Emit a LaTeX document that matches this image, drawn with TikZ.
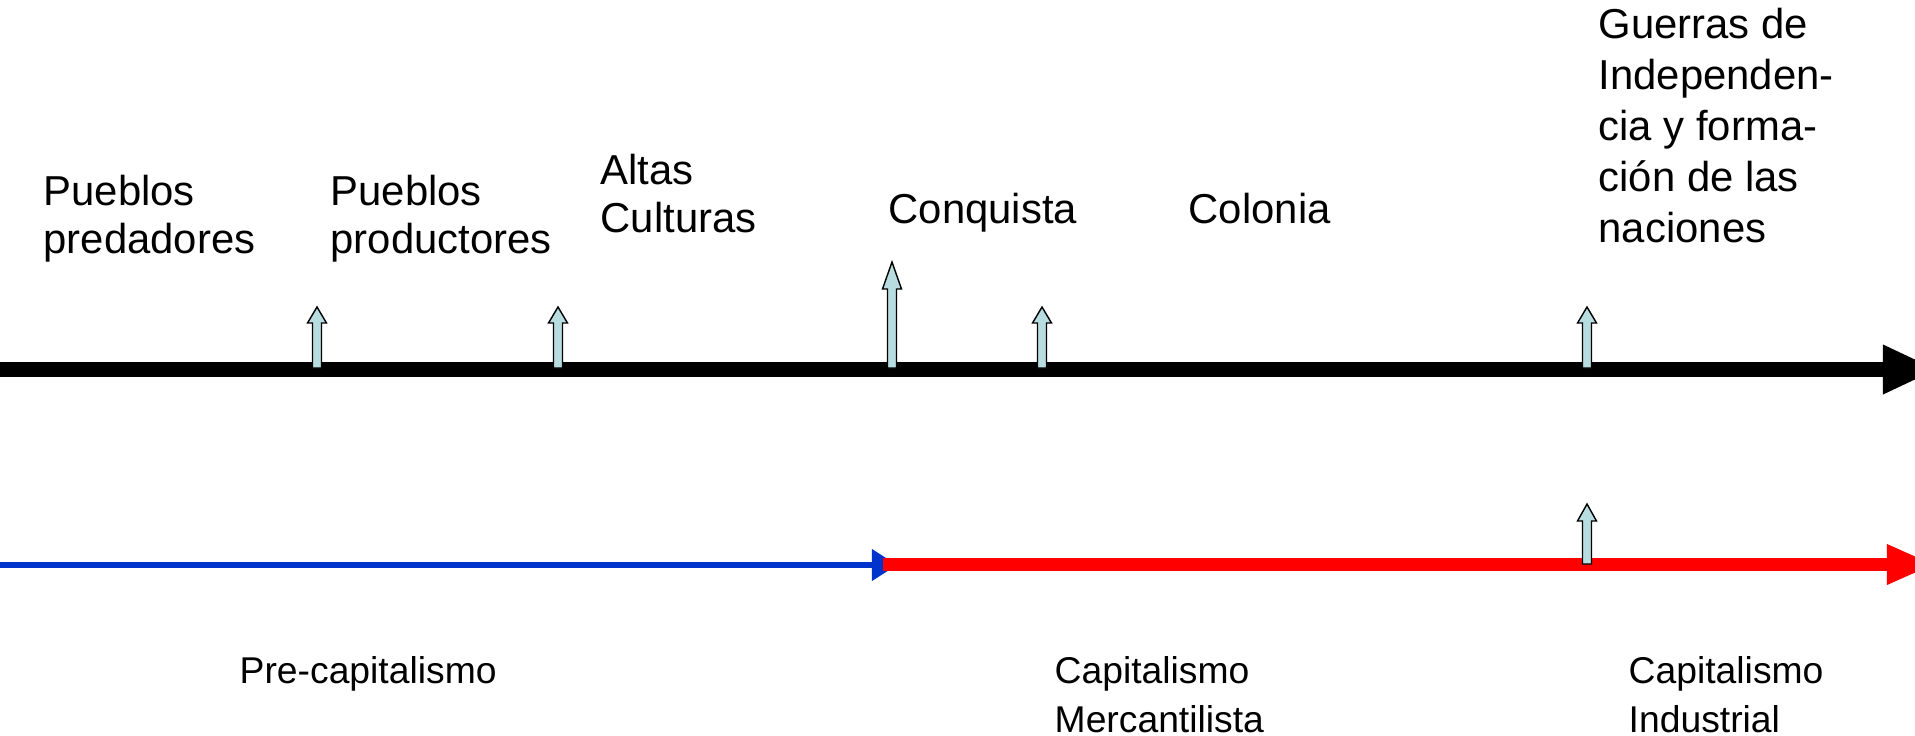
\documentclass[tikz,border=0pt]{standalone}
\usepackage{fontspec}
\setmainfont{Liberation Sans}
\usetikzlibrary{arrows.meta}
\definecolor{celeste}{RGB}{183,221,224}
\definecolor{azul}{RGB}{0,51,204}
\definecolor{rojo}{RGB}{255,0,0}
\tikzset{
  etiqueta/.style = {anchor=base west, inner sep=0pt, align=left,
    font=\fontsize{11.9}{13.4}\selectfont},% base = ultima linea
  periodo/.style = {etiqueta, font=\fontsize{10.6}{13.9}\selectfont},% textos de abajo
  marca/.style = {draw=black, fill=celeste, line width=0.4pt},% flechitas celestes
  eje/.style = {line width=0.15cm, -{Triangle[length=0.53cm,width=0.5cm,line width=0pt]}},
  precap/.style = {azul, line width=0.06cm, -{Triangle[length=0.25cm,width=0.32cm,line width=0pt]}},
  capit/.style = {rojo, line width=0.13cm, -{Triangle[length=0.46cm,width=0.41cm,line width=0pt]}},
}
% flechita: x, punta, base de la cabeza, pie
\newcommand{\flechita}[4]{%
  \draw[marca] (#1-4.5,#4) -- (#1-4.5,#3) -- (#1-9.5,#3) -- (#1,#2)
    -- (#1+9.5,#3) -- (#1+4.5,#3) -- (#1+4.5,#4) -- cycle;}

\begin{document}
\begin{tikzpicture}[x=0.01cm,y=-0.01cm]
\clip (0,0) rectangle (1915,735);
% linea de los pueblos
\coordinate (a0) at (0,369.5);
\coordinate (a1) at (1936,369.5);
\draw[eje] (a0) -- (a1);
% linea de los modos de produccion
\coordinate (b0) at (0,565);
\coordinate (b1) at (897,565);
\coordinate (r0) at (883,564.5);
\coordinate (r1) at (1933,564.5);
\draw[precap] (b0) -- (b1);
\draw[capit] (r0) -- (r1);

\flechita{317}{307}{323}{368}
\flechita{558}{307}{323}{368}
\flechita{892}{262}{289}{368}
\flechita{1042}{307}{323}{368}
\flechita{1587}{307}{323}{368}
\flechita{1587}{504}{521}{564}

\node[etiqueta] (pred) at (43,253) {Pueblos\\predadores};
\node[etiqueta] (prod) at (330,253) {Pueblos\\productores};
\node[etiqueta] (altas) at (600,232) {Altas\\Culturas};
\node[etiqueta] (conq) at (888,223) {Conquista};
\node[etiqueta] (colon) at (1188,223) {Colonia};
\node[etiqueta, font=\fontsize{11.9}{14.5}\selectfont] (guerras) at (1598,242)
  {Guerras de\\Independen-\\cia y forma-\\ción de las\\naciones};

\node[periodo] (pre) at (239,683) {Pre-capitalismo};
\node[periodo] (merc) at (1054,732) {Capitalismo\\Mercantilista};
\node[periodo] (indus) at (1628,732) {Capitalismo\\Industrial};
\end{tikzpicture}
\end{document}
